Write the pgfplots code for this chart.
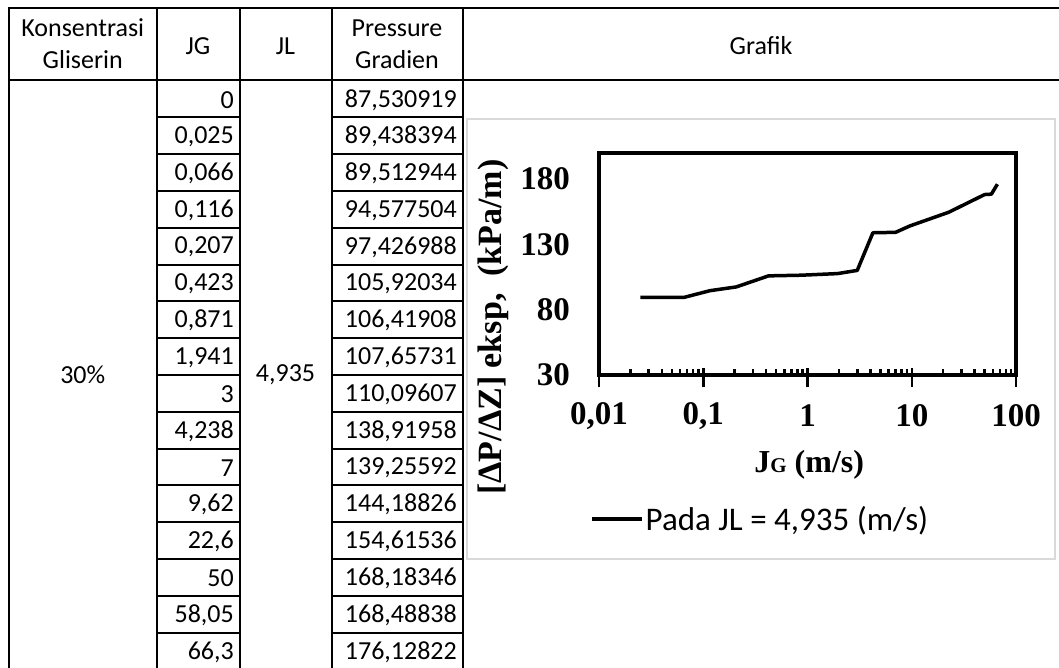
\documentclass[border=0pt]{standalone}
\usepackage{pgfplots}
\pgfplotsset{compat=1.18}
\usepackage{fontspec}
\setmainfont{Carlito}
\newfontfamily\tnr{Liberation Serif}
\definecolor{cbox}{HTML}{D9D9D9}
\newcommand\cellfont{\fontsize{26}{32}\selectfont}

\begin{document}
\begin{tikzpicture}
\useasboundingbox (0pt,0pt) rectangle (1059pt,-668pt);
% spreadsheet cells, 1 unit = 1 px, y down
\begin{scope}[x=1pt,y=-1pt,font=\cellfont]
\draw[line width=2pt] (9,668) -- (9,8) -- (1062,8);
\draw[line width=2pt] (9,80.5) -- (1062,80.5);
\foreach \x in {156.5,239.5,331.5,462.5}
  \draw[line width=2pt] (\x,8) -- (\x,668);
\foreach \k in {1,...,15} {
  \draw[line width=2pt] (156.5,80.5+36.8*\k) -- (239.5,80.5+36.8*\k);
  \draw[line width=2pt] (331.5,80.5+36.8*\k) -- (462.5,80.5+36.8*\k);
}
\node[align=center] at (82.75,44) {Konsentrasi\\Gliserin};
\node at (198,46) {JG};
\node at (285.5,46) {JL};
\node[align=center] at (397,44) {Pressure\\Gradien};
\node at (761,46) {Grafik};
\node at (82.75,375) {30\%};
\node at (285.5,375) {4,935};
\foreach \jg/\pg [count=\i] in {0/{87,530919},{0,025}/{89,438394},{0,066}/{89,512944},
  {0,116}/{94,577504},{0,207}/{97,426988},{0,423}/{105,92034},{0,871}/{106,41908},
  {1,941}/{107,65731},3/{110,09607},{4,238}/{138,91958},7/{139,25592},{9,62}/{144,18826},
  {22,6}/{154,61536},50/{168,18346},{58,05}/{168,48838},{66,3}/{176,12822}} {
  \node[anchor=east,inner sep=0pt] at (234,80.5+36.8*\i-17.4) {\jg};
  \node[anchor=east,inner sep=0pt] at (457,80.5+36.8*\i-17.4) {\pg};
}
% chart area
\draw[cbox,line width=1.5pt,fill=white] (467,119) rectangle (1055,559);
\end{scope}

\begin{axis}[
  at={(599pt,-375pt)}, anchor=south west,
  scale only axis, width=417pt, height=222pt,
  xmode=log, xmin=0.01, xmax=100, ymin=30, ymax=200,
  xtick={0.01,0.1,1,10,100},
  xticklabels={{0,01},{0,1},1,10,100},
  minor xtick={0.02,0.03,0.04,0.05,0.06,0.07,0.08,0.09,0.2,0.3,0.4,0.5,0.6,0.7,0.8,0.9,
    2,3,4,5,6,7,8,9,20,30,40,50,60,70,80,90},
  ytick={30,80,130,180},
  yticklabels={30,80,130,180},
  xtick pos=left,
  axis line style={line width=3.5pt},
  tick style={line width=2.5pt,black},
  ytick style={draw=none},
  tick align=inside, major tick length=7pt, minor tick length=6pt,
  extra x ticks={0.01,0.1,1,10,100},
  extra x tick labels={},
  extra x tick style={tick align=outside, major tick length=12pt},
  ticklabel style={font=\tnr\bfseries\fontsize{33}{33}\selectfont},
  xticklabel style={anchor=center, yshift=-41pt},
  yticklabel style={anchor=east, inner sep=0pt, xshift=-29pt},
  xlabel={J{\fontsize{21}{21}\selectfont G} (m/s)},
  xlabel style={at={(axis description cs:0.504,-0.405)}, anchor=center,
    font=\tnr\bfseries\fontsize{32}{32}\selectfont},
  ylabel={{[ΔP/ΔZ] eksp,\ \ (kPa/m)}},
  ylabel style={at={(axis description cs:-0.254,0.216)}, anchor=center,
    font=\tnr\bfseries\fontsize{34}{34}\selectfont},
  legend style={at={(axis description cs:-0.0216,-0.649)}, anchor=west,
    draw=none, fill=none, inner sep=0pt,
    font=\fontsize{33}{33}\selectfont, cells={anchor=west}},
  legend image code/.code={\draw[line width=3.5pt] (0pt,0pt) -- (50pt,0pt);},
]
\addplot[black, line width=3.5pt, line join=round] coordinates {
  (0.025,89.438394) (0.066,89.512944) (0.116,94.577504) (0.207,97.426988)
  (0.423,105.92034) (0.871,106.41908) (1.941,107.65731) (3,110.09607)
  (4.238,138.91958) (7,139.25592) (9.62,144.18826) (22.6,154.61536)
  (50,168.18346) (58.05,168.48838) (66.3,176.12822)
};
\addlegendentry{Pada JL = 4,935 (m/s)}
\end{axis}
\end{tikzpicture}
\end{document}
